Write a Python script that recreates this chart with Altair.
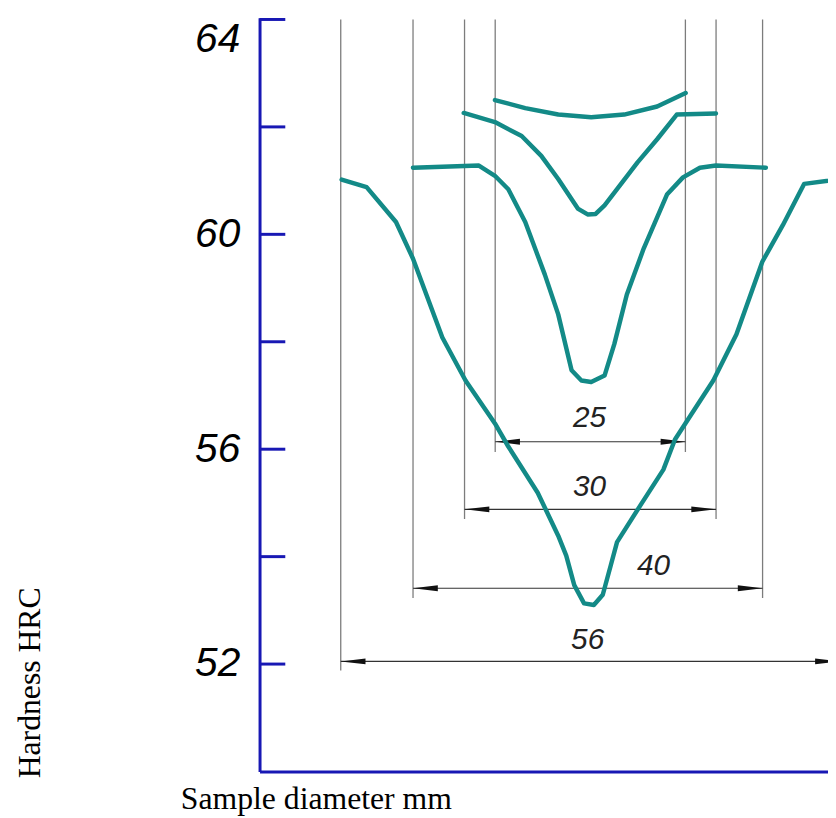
import altair as alt
import pandas as pd

# ---- data (x: position across the sample section, scaled units centred on the axis of the sample; y: HRC)
c25_x = [-10.7, -7.3, -3.6, 0.1, 3.8, 7.5, 10.7]
c25_y = [62.50, 62.35, 62.23, 62.18, 62.23, 62.38, 62.63]

c30_x = [-14.2, -10.7, -7.7, -5.5, -3.6, -1.4, -0.3, 0.6, 1.6, 3.0, 5.3, 7.5, 9.7, 14.1]
c30_y = [62.26, 62.09, 61.83, 61.46, 61.03, 60.48, 60.37, 60.38, 60.54, 60.84, 61.34, 61.77, 62.23, 62.25]

c40_x = [-19.9, -12.5, -10.7, -9.2, -7.3, -5.1, -3.6, -2.1, -1.0, 0.1, 1.6, 2.7, 4.1, 6.0, 8.6, 10.4, 12.3, 14.1, 19.7]
c40_y = [61.24, 61.28, 61.09, 60.84, 60.23, 59.25, 58.51, 57.47, 57.28, 57.25, 57.37, 57.96, 58.88, 59.74, 60.74, 61.06, 61.24, 61.28, 61.24]

c56_x = [-27.9, -25.1, -21.8, -19.9, -16.6, -14.0, -10.7, -9.2, -5.9, -3.6, -2.7, -1.8, -0.7, 0.4, 1.4, 2.3, 3.0,
         5.6, 8.2, 9.5, 13.8, 16.4, 19.3, 21.6, 24.0, 26.7, 28.0]
c56_y = [61.02, 60.88, 60.23, 59.55, 58.08, 57.28, 56.48, 56.05, 55.19, 54.39, 54.02, 53.47, 53.13, 53.10, 53.29, 53.84, 54.27,
         54.95, 55.62, 56.18, 57.28, 58.14, 59.49, 60.17, 60.94, 61.00, 61.04]

dim_labels = ["25", "30", "40", "56"]
dim_left = [-10.67, -14.11, -19.89, -28.0]
dim_right = [10.67, 14.11, 19.33, 28.0]
dim_line_y = [56.14, 54.88, 53.41, 52.05]
ext_bottom = [55.95, 54.70, 53.23, 51.88]
ext_top = [64.0, 64.0, 64.0, 64.0]
label_x = [-0.1, -0.1, 7.1, -0.3]
label_y = [56.58, 55.29, 53.82, 52.45]

y_label_values = [52, 56, 60, 64]
y_tick_values = [52, 54, 56, 58, 60, 62, 64]

XMIN, XMAX = -37.11, 26.67
YMIN, YMAX = 50.0, 64.03
TICK_LEN = 26 / 9.0

TEAL = "#138A87"
BLUE = "#1818B4"

# ---- tables
rows = []
for name, xs, ys in [("25", c25_x, c25_y), ("30", c30_x, c30_y), ("40", c40_x, c40_y), ("56", c56_x, c56_y)]:
    for x, y in zip(xs, ys):
        rows.append({"series": name, "x": x, "y": y})
curves = pd.DataFrame(rows)

dims = pd.DataFrame({
    "label": dim_labels, "left": dim_left, "right": dim_right, "dim_y": dim_line_y,
    "bottom": ext_bottom, "top": ext_top, "lx": label_x, "ly": label_y,
})
ext = pd.DataFrame(
    [{"x": l, "top": t, "bottom": b} for l, t, b in zip(dim_left, ext_top, ext_bottom)]
    + [{"x": r, "top": t, "bottom": b} for r, t, b in zip(dim_right, ext_top, ext_bottom)]
)
ticks = pd.DataFrame({"v": y_tick_values})

xscale = alt.Scale(domain=[XMIN, XMAX], nice=False, zero=False)
yscale = alt.Scale(domain=[YMIN, YMAX], nice=False, zero=False)

XAXIS = alt.Axis(
    title="Sample diameter mm", labels=False, ticks=False, grid=False,
    domainColor=BLUE, domainWidth=3,
    titleFont="Liberation Serif", titleFontSize=32, titleFontWeight="normal", titleColor="black",
    titleX=-80, titleY=37, titleAlign="left", titleBaseline="alphabetic")
YAXIS = alt.Axis(
    values=y_label_values, ticks=False, tickSize=0, grid=False,
    domainColor=BLUE, domainWidth=3,
    labelFont="Liberation Sans", labelFontStyle="italic", labelFontSize=41, labelColor="black",
    labelPadding=20, labelFlush=5,
    title="Hardness HRC", titleFont="Liberation Serif", titleFontSize=32, titleFontWeight="normal",
    titleColor="black", titleX=-222, titleY=671, titleAlign="center", titleBaseline="alphabetic")

lines = alt.Chart(curves).mark_line(
    color=TEAL, strokeWidth=4.5, strokeCap="round", strokeJoin="round", clip=True
).encode(
    x=alt.X("x:Q", scale=xscale, axis=XAXIS),
    y=alt.Y("y:Q", scale=yscale, axis=YAXIS),
    detail="series:N",
)

yticks = alt.Chart(ticks).mark_rule(color=BLUE, strokeWidth=3).encode(
    x=alt.X("x0:Q", scale=xscale, axis=XAXIS), x2="x1:Q",
    y=alt.Y("v:Q", scale=yscale, axis=YAXIS),
).transform_calculate(x0=str(XMIN), x1=str(XMIN + TICK_LEN))

verticals = alt.Chart(ext).mark_rule(color="#7c7c7c", strokeWidth=1.3, clip=True).encode(
    x=alt.X("x:Q", scale=xscale, axis=XAXIS),
    y=alt.Y("top:Q", scale=yscale, axis=YAXIS), y2="bottom:Q",
)

dimlines = alt.Chart(dims).mark_rule(color="#333333", strokeWidth=1.1, clip=True).encode(
    x=alt.X("left:Q", scale=xscale, axis=XAXIS), x2="right:Q",
    y=alt.Y("dim_y:Q", scale=yscale, axis=YAXIS),
)

arrow_l = alt.Chart(dims).mark_point(
    shape="M0,0L2,-0.24L2,0.24Z", filled=True, size=625, color="#111111", opacity=1, clip=True
).encode(
    x=alt.X("left:Q", scale=xscale, axis=XAXIS),
    y=alt.Y("dim_y:Q", scale=yscale, axis=YAXIS),
)
arrow_r = alt.Chart(dims).mark_point(
    shape="M0,0L-2,-0.24L-2,0.24Z", filled=True, size=625, color="#111111", opacity=1, clip=True
).encode(
    x=alt.X("right:Q", scale=xscale, axis=XAXIS),
    y=alt.Y("dim_y:Q", scale=yscale, axis=YAXIS),
)

dimtext = alt.Chart(dims).mark_text(
    font="Liberation Sans", fontStyle="italic", fontSize=30, color="#222222", baseline="middle", align="center"
).encode(
    x=alt.X("lx:Q", scale=xscale, axis=XAXIS),
    y=alt.Y("ly:Q", scale=yscale, axis=YAXIS),
    text="label:N",
)

chart = alt.layer(verticals, dimlines, arrow_l, arrow_r, dimtext, lines, yticks).properties(
    width=574, height=761,
    autosize=alt.AutoSizeParams(type="none"),
    padding={"left": 254, "top": 6, "right": 0, "bottom": 43},
    background="white",
).configure_view(stroke=None)

chart.save("out.html", embed_options={"renderer": "svg", "actions": False})
